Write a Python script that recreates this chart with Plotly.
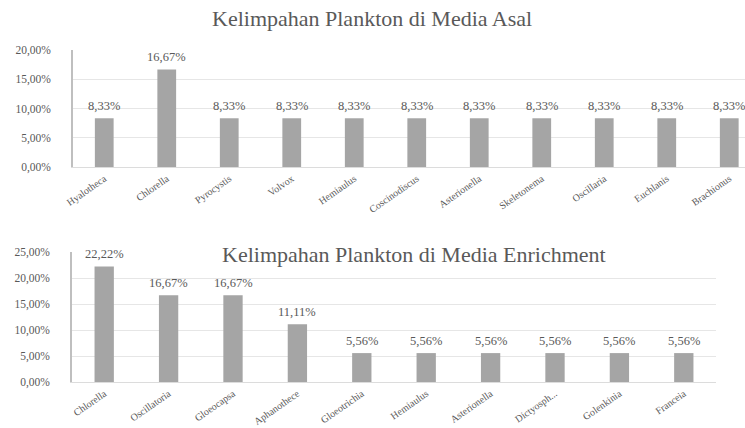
import plotly.graph_objects as go

# Plankton abundance (%) in the original medium
asal_genus = ["Hyalotheca", "Chlorella", "Pyrocystis", "Volvox", "Hemiaulus",
              "Coscinodiscus", "Asterionella", "Skeletonema", "Oscillaria",
              "Euchlanis", "Brachionus"]
asal_pct = [8.33, 16.67, 8.33, 8.33, 8.33, 8.33, 8.33, 8.33, 8.33, 8.33, 8.33]

# Plankton abundance (%) in the enrichment medium
enrich_genus = ["Chlorella", "Oscillatoria", "Gloeocapsa", "Aphanothece",
                "Gloeotrichia", "Hemiaulus", "Asterionella", "Dictyosph...",
                "Golenkinia", "Franceia"]
enrich_pct = [22.22, 16.67, 16.67, 11.11, 5.56, 5.56, 5.56, 5.56, 5.56, 5.56]

asal_ticks = [0, 5, 10, 15, 20]
enrich_ticks = [0, 5, 10, 15, 20, 25]

W, H = 745, 428
BAR = "#a5a5a5"
TXT = "#595959"
FONT = "Liberation Serif"


def pct_label(v):
    return f"{v:.2f}%".replace(".", ",")


fig = go.Figure()
labels = []
for genus, pct, xa, ya in [(asal_genus, asal_pct, "x", "y"),
                           (enrich_genus, enrich_pct, "x2", "y2")]:
    fig.add_trace(go.Bar(
        x=genus, y=pct, xaxis=xa, yaxis=ya,
        marker=dict(color=BAR, line=dict(width=0)), width=0.3,
        hoverinfo="skip",
    ))
    # value labels sitting a little above each bar
    for g, v in zip(genus, pct):
        labels.append(dict(
            x=g, y=v, xref=xa, yref=ya, text=pct_label(v), showarrow=False,
            xanchor="center", yanchor="bottom", yshift=3,
            font=dict(family=FONT, size=12.5, color=TXT),
        ))


def yaxis(ticks, top, bottom, anchor):
    return dict(
        domain=[1 - bottom / H, 1 - top / H], anchor=anchor, automargin=False,
        range=[0, ticks[-1]], tickvals=ticks,
        ticktext=[pct_label(t) for t in ticks],
        tickfont=dict(family=FONT, size=11.5, color=TXT), ticklabelstandoff=18,
        showgrid=True, gridcolor="#e6e6e6", gridwidth=1,
        showline=True, linecolor="#bfbfbf", linewidth=1.5,
        zeroline=False, ticks="",
    )


def xaxis(left, right, n_bands, anchor):
    return dict(
        domain=[left / W, right / W], anchor=anchor, automargin=False,
        range=[-0.5, -0.5 + n_bands], type="category",
        tickangle=-35, tickfont=dict(family=FONT, size=10, color=TXT),
        ticklabelstandoff=1,
        showline=True, linecolor="#dcdcdc", linewidth=1,
        showgrid=False, ticks="",
    )


titles = [
    dict(text="Kelimpahan Plankton di Media Asal", xref="paper", yref="paper",
         x=372 / W, y=1 - 19 / H, showarrow=False, xanchor="center", yanchor="middle",
         font=dict(family=FONT, size=22, color=TXT)),
    dict(text="Kelimpahan Plankton di Media Enrichment", xref="paper", yref="paper",
         x=414 / W, y=1 - 254 / H, showarrow=False, xanchor="center", yanchor="middle",
         font=dict(family=FONT, size=22, color=TXT)),
]

fig.update_layout(
    width=W, height=H, autosize=False,
    margin=dict(l=0, r=0, t=0, b=0, pad=0, autoexpand=False),
    paper_bgcolor="white", plot_bgcolor="white",
    showlegend=False,
    xaxis=xaxis(73, 745, 672 / 62.5, "y"),
    yaxis=yaxis(asal_ticks, 50, 167, "x"),
    xaxis2=xaxis(72, 716, 10, "y2"),
    yaxis2=yaxis(enrich_ticks, 252, 382, "x2"),
    annotations=titles + labels,
)

fig.write_html("out.html")
